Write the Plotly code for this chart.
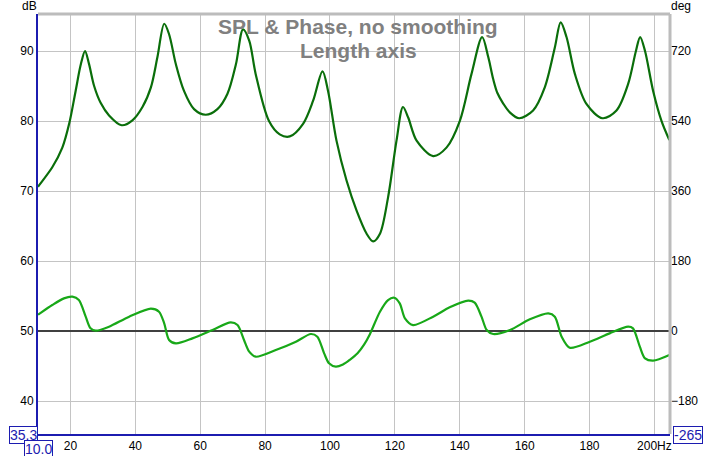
import plotly.graph_objects as go

# ---- data ----
mag_freq = [10.0, 10.3, 14.4, 17.5, 19.6, 21.6, 23.2, 24.5, 25.7, 27.3, 29.3, 31.9, 35.8, 39.1, 42.2,
            44.8, 46.8, 48.9, 50.4, 52.5, 55.0, 58.1, 61.7, 65.3, 68.4, 71.0, 73.2, 75.1, 77.1,
            81.2, 84.5, 87.6, 91.7, 94.8, 97.7, 99.4, 102.0, 105.1, 108.2, 111.3, 113.3, 115.4,
            117.9, 120.5, 122.5, 124.1, 126.7, 131.8, 135.9, 140.0, 143.6, 146.9, 148.8, 150.3,
            151.6, 153.4, 155.5, 158.3, 162.6, 166.2, 169.3, 171.1, 172.9, 175.5, 179.1, 184.0,
            188.3, 191.9, 194.3, 195.6, 197.1, 199.6, 202.2, 204.6]
mag_db = [70.6, 70.8, 73.4, 76.2, 79.6, 84.3, 88.1, 90.0, 88.2, 85.0, 82.6, 80.8, 79.4, 80.1, 82.0,
          84.8, 89.1, 93.9, 92.4, 88.1, 84.3, 81.7, 80.9, 81.7, 83.9, 88.1, 93.1, 91.5, 86.7,
          80.0, 78.1, 77.8, 79.6, 82.9, 87.1, 84.3, 77.2, 71.5, 67.2, 63.9, 62.8, 63.9,
          69.1, 77.2, 82.0, 80.5, 77.2, 75.0, 76.2, 80.0, 86.7, 92.0, 89.1, 86.0,
          84.0, 82.5, 81.2, 80.4, 81.5, 84.8, 90.5, 94.1, 92.0, 86.7, 82.4, 80.4,
          81.5, 85.3, 90.0, 92.0, 90.0, 84.3, 80.0, 77.3]

ph_freq = [10.0, 10.3, 14.4, 18.0, 20.6, 22.6, 24.7, 26.2, 27.8, 31.9, 38.1, 44.8, 47.3, 48.9, 50.4,
           52.5, 57.6, 63.8, 69.4, 71.5, 73.5, 75.1, 77.1, 83.3, 89.5, 94.1, 96.1, 98.2, 99.7,
           101.8, 104.0, 106.1, 108.5, 110.5, 112.3, 115.4, 117.9, 119.8, 121.5, 123.1, 125.6, 131.8,
           136.9, 142.6, 144.6, 146.7, 148.3, 150.3, 155.5, 161.6, 167.3, 169.3, 171.4, 173.9,
           180.1, 186.2, 191.9, 193.4, 195.5, 197.1, 199.6, 204.6]
ph_deg = [42.0, 43.7, 66.9, 84.0, 88.3, 79.7, 36.9, 6.9, 0.9, 11.1, 36.9, 57.4, 49.7, 19.7, -23.0,
          -31.7, -18.9, 2.6, 22.3, 15.4, -23.0, -53.0, -66.0, -48.9, -27.4, -7.7, -14.6, -57.4, -83.0,
          -91.7, -86.0, -74.0, -57.0, -35.0, -8.0, 49.7, 79.7, 85.7, 71.1, 32.6, 15.4, 36.9,
          60.9, 78.0, 72.9, 36.9, 2.6, -7.7, 2.6, 30.0, 45.4, 36.9, -14.6, -42.9,
          -27.4, -6.0, 11.1, 6.9, -40.3, -70.3, -76.3, -61.7]

x_ticks = [20, 40, 60, 80, 100, 120, 140, 160, 180, 200]
x_ticktext = ["20", "40", "60", "80", "100", "120", "140", "160", "180", "200Hz"]
db_ticks = [40, 50, 60, 70, 80, 90]
deg_ticks = [-180, 0, 180, 360, 540, 720]

X_RANGE = [10.0, 204.8]
DB_RANGE = [35.29, 95.29]
DEG_RANGE = [(DB_RANGE[0] - 50) * 18, (DB_RANGE[1] - 50) * 18]

W, H = 718, 456
ML, MR, MT, MB = 38, 48, 14, 22
PW, PH = W - ML - MR, H - MT - MB


def px(x):
    return (x - ML) / PW


def py(y):
    return (H - MB - y) / PH


BLUE = "#1c1cb0"
FONT = "Liberation Sans, Arial, sans-serif"

fig = go.Figure()
fig.add_trace(go.Scatter(x=X_RANGE, y=[0, 0], yaxis="y2", mode="lines",
                         line=dict(color="#404040", width=2), hoverinfo="skip"))
fig.add_trace(go.Scatter(x=mag_freq, y=mag_db, mode="lines",
                         line=dict(color="#0a6e0a", width=2.2, shape="spline", smoothing=0.9)))
fig.add_trace(go.Scatter(x=ph_freq, y=ph_deg, yaxis="y2", mode="lines",
                         line=dict(color="#18a818", width=2.2, shape="spline", smoothing=0.8)))

fig.update_layout(
    width=W, height=H, margin=dict(l=ML, r=MR, t=MT, b=MB, autoexpand=False),
    paper_bgcolor="white", plot_bgcolor="white", showlegend=False,
    font=dict(family=FONT, size=12, color="#000000"),
    xaxis=dict(range=X_RANGE, tickvals=x_ticks, ticktext=x_ticktext, showgrid=True,
               gridcolor="#c4c4c4", gridwidth=1, zeroline=False, showline=True,
               linecolor=BLUE, linewidth=2, ticks="", tickfont=dict(size=12)),
    yaxis=dict(range=DB_RANGE, tickvals=db_ticks, showgrid=True, gridcolor="#c4c4c4",
               gridwidth=1, zeroline=False, showline=True, linecolor=BLUE, linewidth=2,
               ticks="", tickfont=dict(size=12)),
    yaxis2=dict(range=DEG_RANGE, tickvals=deg_ticks, overlaying="y", side="right",
                showgrid=False, zeroline=False, showline=False, ticks="",
                tickfont=dict(size=12)),
    shapes=[
        dict(type="line", xref="paper", yref="paper", x0=0, x1=1, y0=1, y1=1,
             line=dict(color="#bcbcbc", width=3)),
        dict(type="line", xref="paper", yref="paper", x0=1, x1=1, y0=0, y1=1,
             line=dict(color="#bcbcbc", width=3)),
    ],
)

ann = [
    dict(text="SPL & Phase, no smoothing", x=px(358), y=py(26.5), size=21),
    dict(text="Length axis", x=px(358), y=py(50), size=21),
]
for a in ann:
    fig.add_annotation(text=a["text"], x=a["x"], y=a["y"], xref="paper", yref="paper",
                       showarrow=False, xanchor="center", yanchor="middle",
                       font=dict(family=FONT, size=a["size"], color="#808080", weight="bold"))

fig.add_annotation(text="dB", x=px(29), y=py(6), xref="paper", yref="paper", showarrow=False,
                   xanchor="center", yanchor="middle", font=dict(size=12, color="#000000"))
fig.add_annotation(text="deg", x=px(681), y=py(6), xref="paper", yref="paper", showarrow=False,
                   xanchor="center", yanchor="middle", font=dict(size=12, color="#000000"))

for txt, cx, cy in [("35.3", 23, 434.5), ("10.0", 38.5, 448.5), ("-265", 688, 434.5)]:
    fig.add_annotation(text=txt, x=px(cx), y=py(cy), xref="paper", yref="paper",
                       showarrow=False, xanchor="center", yanchor="middle",
                       font=dict(size=14, color=BLUE), bordercolor=BLUE, borderwidth=1,
                       borderpad=0, bgcolor="white")

fig.write_html("out.html")
